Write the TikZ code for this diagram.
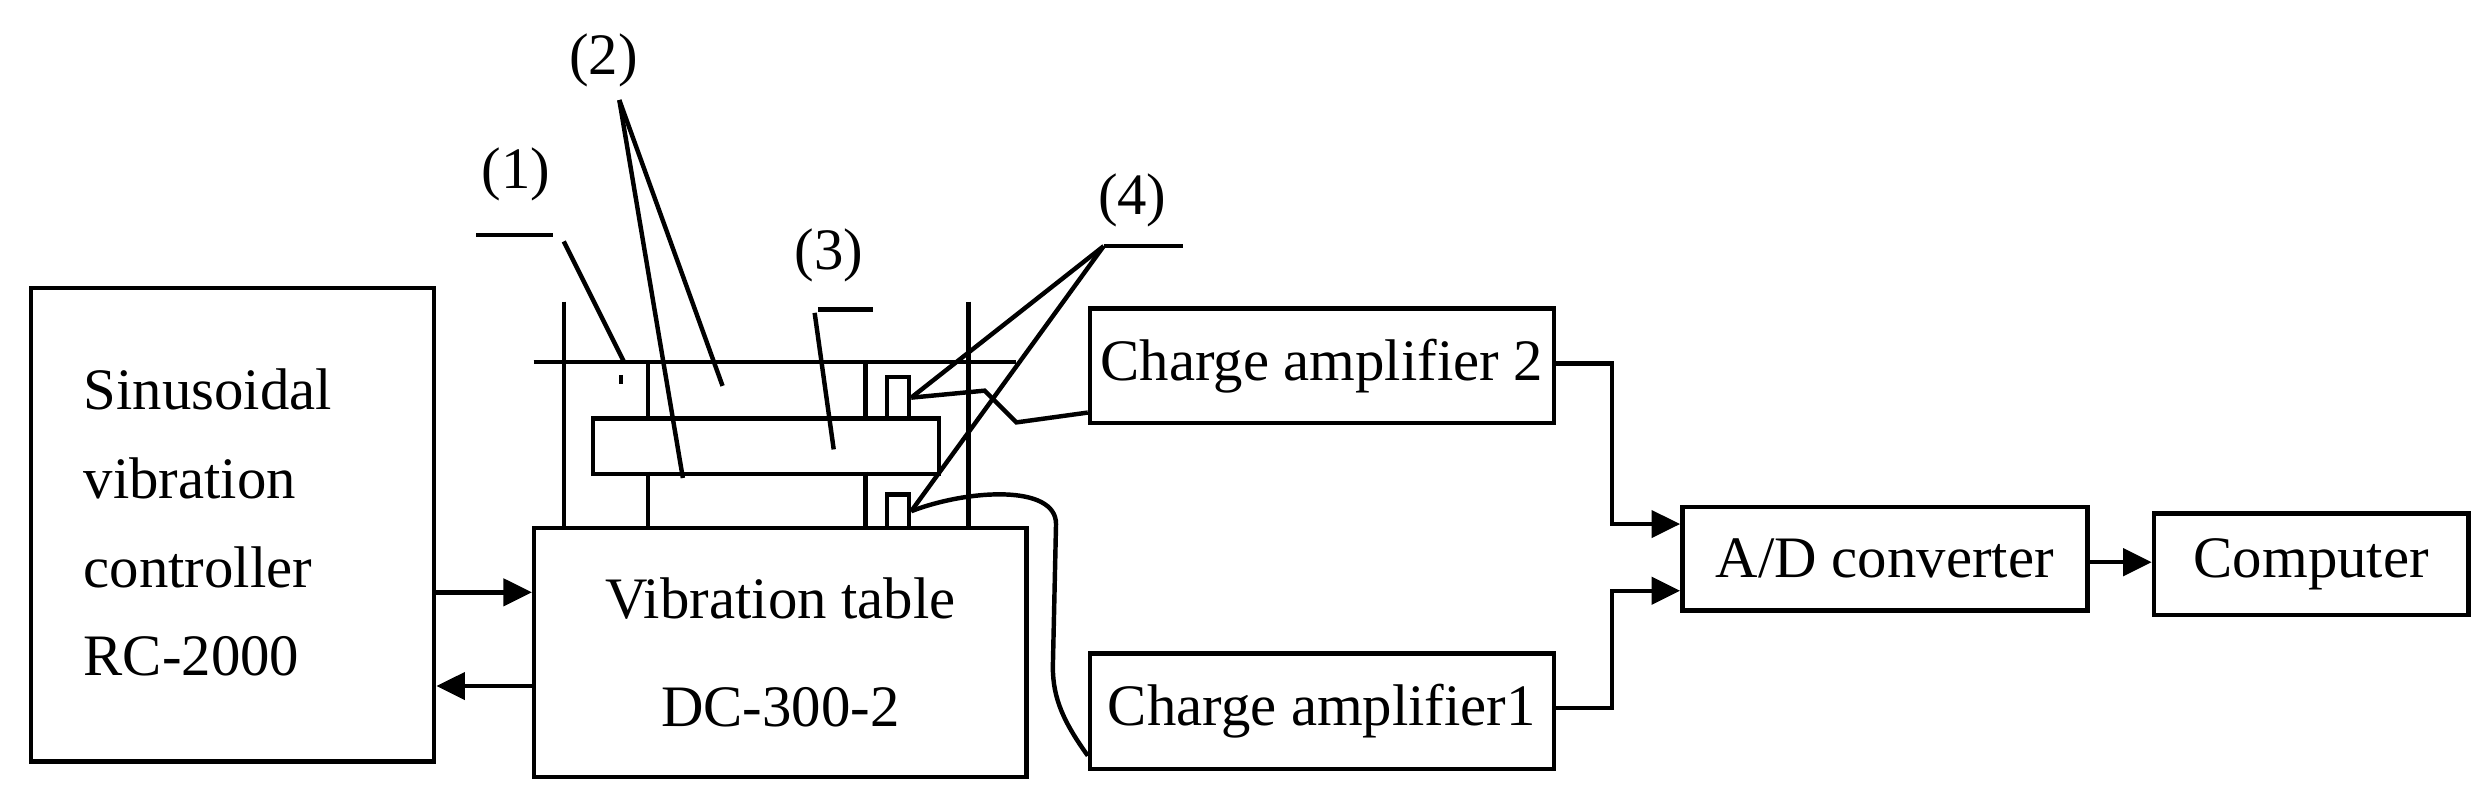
\documentclass[tikz,border=0pt]{standalone}
\usepackage{fontspec}
\setmainfont{Liberation Serif}
\usetikzlibrary{arrows.meta}
\begin{document}
\begin{tikzpicture}[x=1pt,y=-1pt,line width=2.8pt,
  box/.style={draw,rectangle,inner sep=0pt},
  txt/.style={font=\fontsize{37}{48}\selectfont},
  arr/.style={-{Triangle[length=18pt,width=17pt]}}]
\useasboundingbox (0,0) rectangle (1568,503);
% boxes
\node[box,minimum width=254pt,minimum height=298pt,anchor=north west] (ctrl) at (18,180) {};
\node[txt,align=left,anchor=west] at (48,329) {Sinusoidal\\[8pt]vibration\\[8pt]controller\\[8pt]RC-2000};
\node[box,minimum width=310pt,minimum height=157pt,anchor=north west,txt,align=center] (table) at (335,331) {Vibration table\\[20pt]DC-300-2};
\node[box,minimum width=292pt,minimum height=72pt,anchor=north west,txt] (amp2) at (685,193) {Charge amplifier 2};
\node[box,minimum width=292pt,minimum height=73pt,anchor=north west,txt] (amp1) at (685,410) {Charge amplifier1};
\node[box,minimum width=255pt,minimum height=65pt,anchor=north west,txt] (ad) at (1058,318) {A/D converter};
\node[box,minimum width=198pt,minimum height=64pt,anchor=north west,txt] (comp) at (1355,322) {Computer};
% fixture
\draw (336,228) -- (640,228);
\draw (355,190) -- (355,331);
\draw (610,190) -- (610,331);
\draw (408,228) -- (408,262) (408,297) -- (408,331);
\draw (545,228) -- (545,262) (545,297) -- (545,331);
\node[box,minimum width=218pt,minimum height=35pt,anchor=north west] (plate) at (372,262) {};
\node[box,minimum width=14pt,minimum height=26pt,anchor=north west] (s2) at (557,236) {};
\node[box,minimum width=14pt,minimum height=21pt,anchor=north west] (s1) at (557,310) {};
% labels
\node[txt] (l1) at (325,110) {(1)};
\node[txt] (l2) at (380,38) {(2)};
\node[txt] (l3) at (522,161) {(3)};
\node[txt] (l4) at (713,126) {(4)};
\coordinate (c1) at (300,148); \coordinate (c1b) at (348,148);
\draw (c1) -- (c1b);
\draw (355,152) -- (393,228);
\draw (391,236) -- (391,242);
\coordinate (c2) at (390,63);
\draw (c2) -- (455,243);
\draw (c2) -- (430,301);
\draw (515,195) -- (550,195);
\draw (513,197) -- (525,283);
\coordinate (c4) at (695,155);
\draw (c4) -- (745,155);
\draw (c4) -- (s2.east);
\draw (c4) -- (s1.east);
% cables
\draw (s2.east) -- (620,246) -- (640,266) -- ([yshift=8pt]amp2.south west);
\draw (s1.east) .. controls (610,308) and (665,305) .. (665,330) -- (663,420) .. controls (663,440) and (670,455) .. ([yshift=-28pt]amp1.west);
% arrows
\coordinate (j2) at (1015,229);
\coordinate (j1) at (1015,446);
\draw[arr] (ctrl.east |- 0,373) -- (table.west |- 0,373);
\draw[arr] (table.west |- 0,432) -- (ctrl.east |- 0,432);
\draw[arr] (amp2.east |- j2) -- (j2) -- (1015,330) -- (ad.west |- 0,330);
\draw[arr] (amp1.east |- j1) -- (j1) -- (1015,372) -- (ad.west |- 0,372);
\draw[arr] (ad.east |- 0,354) -- (comp.west |- 0,354);
\end{tikzpicture}
\end{document}
